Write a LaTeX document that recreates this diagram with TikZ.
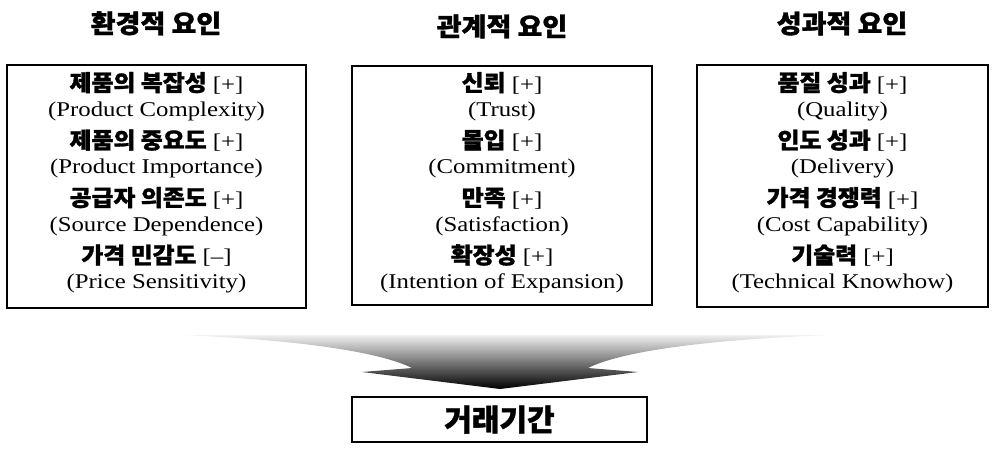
\documentclass[tikz,border=0pt]{standalone}
\usepackage{fontspec}
\setmainfont{Liberation Serif}[FakeStretch=1.18]
\newfontfamily\krfont{Noto Sans CJK KR}[BoldFeatures={FakeBold=1.2}]
\newfontfamily\krwide{Noto Sans CJK KR}[BoldFeatures={FakeBold=1.3,FakeStretch=1.06}]
\tikzset{
  frame/.style={draw, line width=2.2pt, inner sep=0pt},
  hdr/.style={font=\krwide\bfseries\fontsize{25.5}{25.5}\selectfont, anchor=base},
  kline/.style={font=\fontsize{21}{21}\selectfont, anchor=base, inner sep=0pt},
  eline/.style={font=\fontsize{21}{21}\selectfont, anchor=base, inner sep=0pt},
}
\newcommand{\ks}[1]{{\krwide\bfseries\fontsize{22.5}{22.5}\selectfont #1}}
\begin{document}
\begin{tikzpicture}[x=1pt,y=-1pt]
\useasboundingbox (0,0) rectangle (993,448);
% headers
\node[hdr] (h1) at (156,33) {환경적 요인};
\node[hdr] (h2) at (502,36) {관계적 요인};
\node[hdr] (h3) at (842,33) {성과적 요인};
% boxes
\node[frame, minimum width=299pt, minimum height=243pt] (b1) at (156.5,186.5) {};
\node[frame, minimum width=300pt, minimum height=239pt] (b2) at (502,185.5) {};
\node[frame, minimum width=291pt, minimum height=242pt] (b3) at (842.5,186) {};
% box 1
\node[kline] (a1) at (156.5,91) {\ks{제품의 복잡성} [+]};
\node[eline] (a2) at (156.5,116) {(Product Complexity)};
\node[kline] (a3) at (156.5,148.5) {\ks{제품의 중요도} [+]};
\node[eline] (a4) at (156.5,173.5) {(Product Importance)};
\node[kline] (a5) at (156.5,206) {\ks{공급자 의존도} [+]};
\node[eline] (a6) at (156.5,231) {(Source Dependence)};
\node[kline] (a7) at (156.5,263.5) {\ks{가격 민감도} [--]};
\node[eline] (a8) at (156.5,288.5) {(Price Sensitivity)};
% box 2
\node[kline] (c1) at (502,91) {\ks{신뢰} [+]};
\node[eline] (c2) at (502,116) {(Trust)};
\node[kline] (c3) at (502,148.5) {\ks{몰입} [+]};
\node[eline] (c4) at (502,173.5) {(Commitment)};
\node[kline] (c5) at (502,206) {\ks{만족} [+]};
\node[eline] (c6) at (502,231) {(Satisfaction)};
\node[kline] (c7) at (502,263.5) {\ks{확장성} [+]};
\node[eline] (c8) at (502,288.5) {(Intention of Expansion)};
% box 3
\node[kline] (d1) at (842.5,91) {\ks{품질 성과} [+]};
\node[eline] (d2) at (842.5,116) {(Quality)};
\node[kline] (d3) at (842.5,148.5) {\ks{인도 성과} [+]};
\node[eline] (d4) at (842.5,173.5) {(Delivery)};
\node[kline] (d5) at (842.5,206) {\ks{가격 경쟁력} [+]};
\node[eline] (d6) at (842.5,231) {(Cost Capability)};
\node[kline] (d7) at (842.5,263.5) {\ks{기술력} [+]};
\node[eline] (d8) at (842.5,288.5) {(Technical Knowhow)};
% funnel arrow
\shade[top color=black!6, middle color=black!40, bottom color=black]
  (182,335) -- (830,335)
  .. controls (700,340) and (620,352) .. (588,368)
  -- (638,372) -- (500,389) -- (362,372) -- (412,368)
  .. controls (380,352) and (300,340) .. (182,335) -- cycle;
% result box
\node[frame, minimum width=295pt, minimum height=45pt,
      font=\krfont\bfseries\fontsize{30}{30}\selectfont] (res) at (499.5,419.5) {거래기간};
\end{tikzpicture}
\end{document}
